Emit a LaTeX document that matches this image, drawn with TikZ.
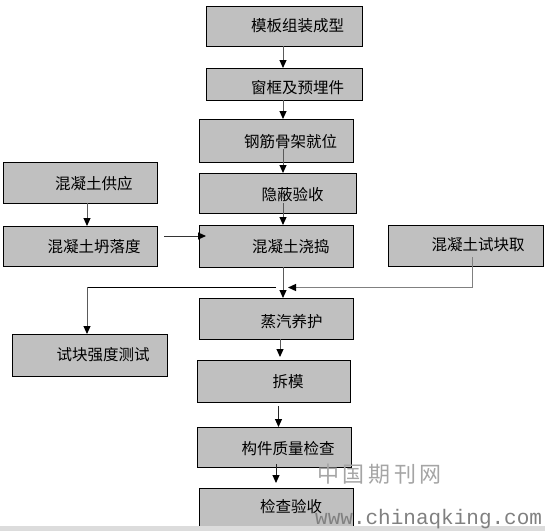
\documentclass[tikz,border=0pt]{standalone}
\usepackage{fontspec}
\newfontfamily\cjk{Noto Sans CJK SC}
\newfontfamily\wmono{Liberation Mono}
\usetikzlibrary{arrows.meta}
\definecolor{boxgray}{RGB}{192,192,192}
\definecolor{linegray}{RGB}{90,90,90}
\definecolor{rgray}{RGB}{128,128,128}
\definecolor{band}{RGB}{220,220,220}
\definecolor{wm}{RGB}{165,165,165}
\begin{document}
\begin{tikzpicture}[x=1pt,y=-1pt,
  box/.style={draw=black,line width=0.8pt,fill=boxgray,inner sep=0pt,outer sep=0pt},
  txt/.style={anchor=west,inner sep=0pt,font=\cjk\fontsize{15.5}{16}\selectfont},
  arr/.style={draw=linegray,line width=1pt,-{Triangle[length=8pt,width=7pt]},arrows={[color=black]}},
  plain/.style={draw=black,line width=0.9pt}]
\useasboundingbox (0,0) rectangle (545,531);
% boxes
\node[box,minimum width=156,minimum height=40] (n1) at (284,26) {};
\node[box,minimum width=156,minimum height=32] (n2) at (284,84) {};
\node[box,minimum width=154,minimum height=43] (n3) at (276,140.5) {};
\node[box,minimum width=157,minimum height=40] (n4) at (277.5,193) {};
\node[box,minimum width=154,minimum height=41] (n5) at (80,182.5) {};
\node[box,minimum width=154,minimum height=40] (n6) at (80,246) {};
\node[box,minimum width=154,minimum height=42] (n7) at (276,246) {};
\node[box,minimum width=155,minimum height=41] (n8) at (465.5,245.5) {};
\node[box,minimum width=154,minimum height=41] (n9) at (276,318.5) {};
\node[box,minimum width=155,minimum height=42] (n10) at (89.5,355) {};
\node[box,minimum width=153,minimum height=42] (n11) at (273.5,381) {};
\node[box,minimum width=154,minimum height=40] (n12) at (274,447) {};
\node[box,minimum width=154,minimum height=42] (n13) at (276,509) {};
% texts
\node[txt] (t1) at (251,26) {模板组装成型};
\node[txt] (t2) at (251,88) {窗框及预埋件};
\node[txt] (t3) at (244,141.5) {钢筋骨架就位};
\node[txt] (t4) at (261.5,195) {隐蔽验收};
\node[txt] (t5) at (55,183.5) {混凝土供应};
\node[txt] (t6) at (47.5,246.5) {混凝土坍落度};
\node[txt] (t7) at (252,246.5) {混凝土浇捣};
\node[txt] (t8) at (431.5,245) {混凝土试块取};
\node[txt] (t9) at (260.5,321.5) {蒸汽养护};
\node[txt] (t10) at (56.5,355) {试块强度测试};
\node[txt] (t11) at (272.5,381.5) {拆模};
\node[txt] (t12) at (241.5,448.5) {构件质量检查};
\node[txt] (t13) at (260,506.5) {检查验收};
% connectors
\draw[arr] ([xshift=-1pt]n1.south) -- ([xshift=-1pt]n1.south |- n2.north);
\draw[arr] ([xshift=-1pt]n2.south) -- ([xshift=-1pt]n2.south |- n3.north);
\draw[arr] ([xshift=-1pt,yshift=13pt]n2.south |- n3.south) -- ([xshift=-1pt]n2.south |- n4.north);
\draw[arr] ([xshift=-1pt,yshift=10pt]n2.south |- n4.south) -- ([xshift=-1pt]n2.south |- n7.north);
\draw[arr] ([xshift=7pt]n5.south) -- ([xshift=7pt]n6.north);
\draw[arr,draw=black!80] ([xshift=7pt,yshift=10pt]n6.east) -- ([xshift=7pt,yshift=10pt]n7.west);
\draw[arr] ([xshift=-1pt]n2.south |- n7.south) -- ([xshift=-1pt]n2.south |- n9.north);
\coordinate (split) at (276,287);
\coordinate (bl) at (87,287);
\coordinate (rj) at (288,287.5);
\draw[plain] (split) -- (bl);
\draw[arr] (bl) -- (bl |- n10.north);
\draw[arr,draw=rgray,line width=1.3pt] ([xshift=7pt,yshift=9pt]n8.south) |- (rj);
\draw[arr,shorten >=3pt] ([xshift=4pt]n9.south) -- ([xshift=4pt]n9.south |- n11.north);
\draw[arr,draw=black!85,shorten <=4pt] ([xshift=5pt]n11.south) -- ([xshift=5pt]n11.south |- n12.north);
\draw[arr,draw=black!85,shorten >=5pt] ([xshift=2pt,yshift=3pt]n12.south) -- ([xshift=2pt]n12.south |- n13.north);
% bottom band and watermark
\fill[band] (0,526) rectangle (545,531);
\node[anchor=west,inner sep=0pt,text=wm,font=\cjk\fontsize{22}{24}\selectfont] (w1) at (317,474) {中\,国\,期\,刊\,网};
\node[anchor=base west,inner sep=0pt,text=rgray,font=\wmono\fontsize{21}{22}\selectfont] (w2) at (315,524.5) {www.chinaqking.com};
\end{tikzpicture}
\end{document}
